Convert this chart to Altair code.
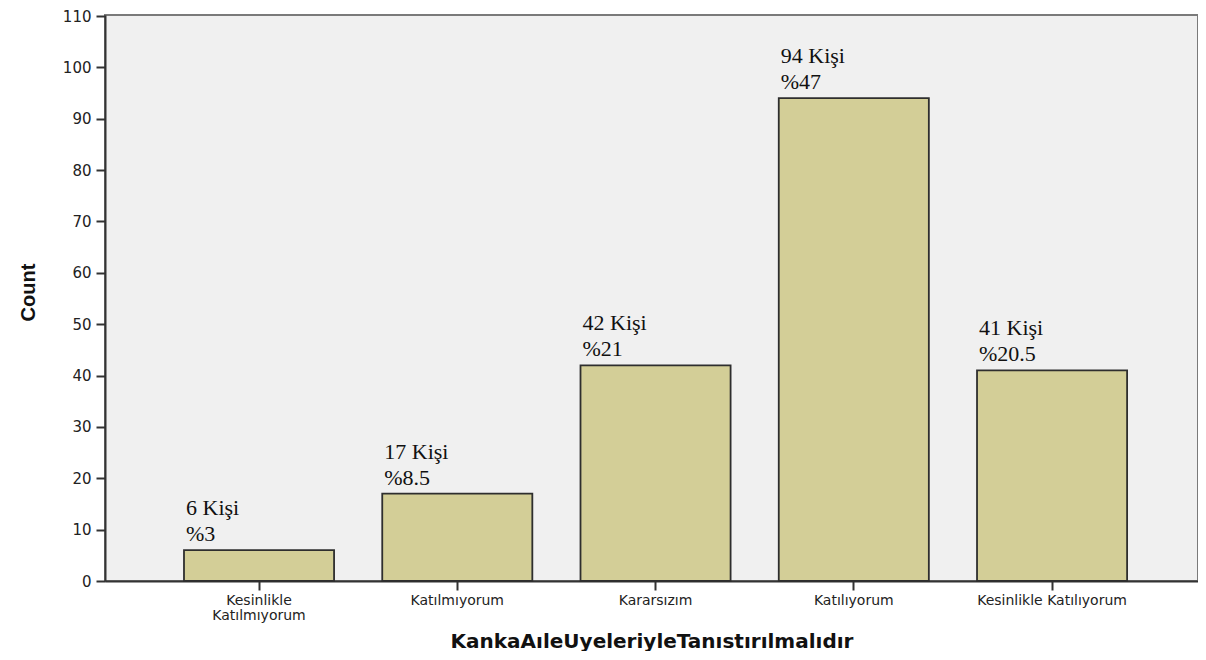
import altair as alt
import pandas as pd

categories = ["Kesinlikle Katılmıyorum", "Katılmıyorum", "Kararsızım", "Katılıyorum", "Kesinlikle Katılıyorum"]
counts = [6, 17, 42, 94, 41]
percents = [3, 8.5, 21, 47, 20.5]
y_ticks = [0, 10, 20, 30, 40, 50, 60, 70, 80, 90, 100, 110]

df = pd.DataFrame({
    "cat": categories,
    "count": counts,
    "label": [f"{c} Kişi\n%{p:g}" for c, p in zip(counts, percents)],
})

x_scale = alt.Scale(domain=categories, paddingInner=0.243, paddingOuter=0.378, align=0.527)
y_scale = alt.Scale(domain=[0, 110.2], nice=False, zero=True)

x_axis = alt.Axis(
    title="KankaAıleUyeleriyleTanıstırılmalıdır",
    titleFont="DejaVu Sans", titleFontSize=20, titleFontWeight="bold", titleColor="#111",
    titleY=60, titleBaseline="middle",
    labelFont="DejaVu Sans", labelFontSize=14, labelColor="#222", labelAngle=0,
    labelExpr="datum.value == 'Kesinlikle Katılmıyorum' ? ['Kesinlikle', 'Katılmıyorum'] : datum.value",
    labelLineHeight=15, labelPadding=3,
    tickSize=9, tickColor="#333", tickWidth=2,
    domainColor="#333", domainWidth=2,
)
y_axis = alt.Axis(
    title="Count", values=y_ticks,
    titleFont="Liberation Sans", titleFontSize=20, titleFontWeight="bold", titleColor="#111",
    titleX=-77, titleY=277, titleAngle=270, titleAlign="center", titleBaseline="middle",
    labelFont="DejaVu Sans", labelFontSize=15, labelColor="#222", labelPadding=5,
    tickSize=9, tickColor="#333", tickWidth=2,
    domainColor="#333", domainWidth=2, grid=False,
)

bars = alt.Chart(df).mark_bar(
    color="#d3ce97", stroke="#2e2e2e", strokeWidth=1.8
).encode(
    x=alt.X("cat:N", scale=x_scale, axis=x_axis, sort=categories),
    y=alt.Y("count:Q", scale=y_scale, axis=y_axis),
)

texts = alt.Chart(df).mark_text(
    align="left", baseline="alphabetic", dx=2, dy=-35,
    font="Liberation Serif", fontSize=22, lineBreak="\n", lineHeight=26, color="#111",
).encode(
    x=alt.X("cat:N", scale=x_scale, sort=categories, bandPosition=0),
    y=alt.Y("count:Q", scale=y_scale),
    text="label:N",
)

chart = alt.layer(bars, texts).properties(
    width=1093, height=566,
    autosize=alt.AutoSizeParams(type="none"),
    padding={"left": 97, "top": 7, "right": 0, "bottom": 70},
    background="white",
).configure_view(
    fill="#f0f0f0", stroke="#7a7a7a", strokeWidth=2,
)

chart.save("out.html", embed_options={"renderer": "svg", "actions": False})
